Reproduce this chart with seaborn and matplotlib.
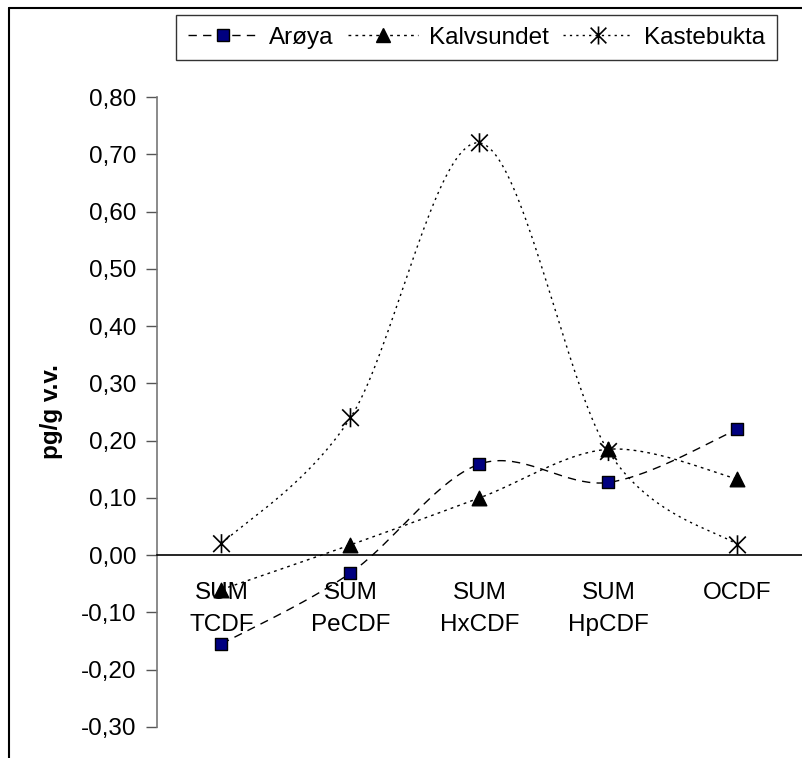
import numpy as np
import pandas as pd
import matplotlib
matplotlib.use("Agg")
import matplotlib.pyplot as plt
from matplotlib.lines import Line2D
from matplotlib.path import Path
import seaborn as sns

categories = ["SUM\nTCDF", "SUM\nPeCDF", "SUM\nHxCDF", "SUM\nHpCDF", "OCDF"]
aroya = [-0.155, -0.031, 0.159, 0.127, 0.220]
kalvsundet = [-0.060, 0.018, 0.100, 0.185, 0.133]
kastebukta = [0.020, 0.240, 0.720, 0.181, 0.018]
series_names = ["Arøya", "Kalvsundet", "Kastebukta"]
yticks = [-0.30, -0.20, -0.10, 0.00, 0.10, 0.20, 0.30, 0.40, 0.50, 0.60, 0.70, 0.80]

sns.set_style("white")
plt.rcParams["font.family"] = ["Liberation Sans", "DejaVu Sans"]
plt.rcParams["text.color"] = "black"
plt.rcParams["axes.labelcolor"] = "black"
plt.rcParams["xtick.color"] = "black"
plt.rcParams["ytick.color"] = "black"
plt.rcParams["xtick.labelcolor"] = "black"
plt.rcParams["ytick.labelcolor"] = "black"
FS = 17.5


def smooth(vals, n=40):
    p = np.array(list(zip(range(len(vals)), vals)), dtype=float)
    ext = np.vstack([p[0], p, p[-1]])
    out = []
    for i in range(len(p) - 1):
        p0, p1, p2, p3 = ext[i], ext[i + 1], ext[i + 2], ext[i + 3]
        c1 = p1 + (p2 - p0) / 6.0
        c2 = p2 - (p3 - p1) / 6.0
        t = np.linspace(0, 1, n)[:, None]
        seg = ((1 - t) ** 3) * p1 + 3 * ((1 - t) ** 2) * t * c1 + 3 * (1 - t) * t ** 2 * c2 + t ** 3 * p2
        out.append(seg if i == 0 else seg[1:])
    s = np.vstack(out)
    return s[:, 0], s[:, 1]


star = Path([(-1, -1), (1, 1), (-1, 1), (1, -1), (0, -1.15), (0, 1.15)],
            [Path.MOVETO, Path.LINETO, Path.MOVETO, Path.LINETO, Path.MOVETO, Path.LINETO])

fig = plt.figure(figsize=(8.03, 7.58), dpi=100)
ax = fig.add_axes([157 / 803, 1 - 727 / 758, (802 - 157) / 803, (727 - 97) / 758])

styles = [
    dict(vals=aroya, ls=(0, (6, 4.5)), marker="s", mfc="#000080", ms=8.5, s=72),
    dict(vals=kalvsundet, ls=(0, (2, 3)), marker="^", mfc="black", ms=10, s=110),
    dict(vals=kastebukta, ls=(0, (1.6, 3)), marker=star, mfc="none", ms=13, s=190),
]
xpos = np.arange(len(categories))
handles = []
for name, st in zip(series_names, styles):
    sx, sy = smooth(st["vals"])
    sns.lineplot(x=sx, y=sy, ax=ax, color="black", lw=1.0, linestyle=st["ls"], sort=False, estimator=None)
    if st["marker"] is star:
        sns.scatterplot(x=xpos, y=st["vals"], ax=ax, marker=star, s=st["s"], facecolors="none",
                        edgecolors="black", linewidths=1.2, zorder=5)
        h = Line2D([], [], color="black", lw=1.0, linestyle=st["ls"], marker=star, ms=st["ms"],
                   mfc="none", mec="black", mew=1.2)
    else:
        sns.scatterplot(x=xpos, y=st["vals"], ax=ax, marker=st["marker"], s=st["s"], color=st["mfc"],
                        edgecolor="black", linewidth=1.0, zorder=5)
        h = Line2D([], [], color="black", lw=1.0, linestyle=st["ls"], marker=st["marker"], ms=st["ms"],
                   mfc=st["mfc"], mec="black", mew=1.0)
    handles.append(h)

ax.set_xlim(-0.5, 4.5)
ax.set_ylim(-0.30, 0.80)
ax.tick_params(axis="x", which="major", length=0, pad=19, labelsize=FS, labelcolor="black")
ax.tick_params(axis="x", which="minor", length=7, width=1.2, color="black", direction="out")
ax.tick_params(axis="y", length=8, width=1.0, color="#555555", direction="out", pad=7, left=True,
               labelsize=FS, labelcolor="black")
ax.set_yticks(yticks)
ax.set_yticklabels([f"{v:.2f}".replace(".", ",") for v in yticks], fontsize=FS)
ax.set_xticks(xpos)
ax.set_xticklabels(categories, fontsize=FS)
ax.set_xticks(np.arange(-0.5, 5.0, 1.0), minor=True)
for sp in ["top", "right"]:
    ax.spines[sp].set_visible(False)
ax.spines["bottom"].set_position(("data", 0))
ax.spines["bottom"].set_color("black")
ax.spines["bottom"].set_linewidth(1.2)
ax.spines["left"].set_color("#777777")
ax.spines["left"].set_linewidth(1.2)
ax.set_xlabel("")
ax.set_ylabel("pg/g v.v.", fontsize=FS, fontweight="bold", color="black")
ax.yaxis.set_label_coords(-105 / 645, 0.5)
ax.yaxis.label.set_va("center")

leg = fig.legend(handles, series_names, loc="upper left", bbox_to_anchor=(176 / 803, 1 - 15 / 758),
                 ncol=3, fontsize=FS, frameon=True, fancybox=False, edgecolor="black",
                 handlelength=2.88, handletextpad=0.45, columnspacing=0.6, borderpad=0.48,
                 borderaxespad=0, labelcolor="black")
leg.get_frame().set_linewidth(1.0)

fig.add_artist(Line2D([9 / 803, 9 / 803], [0, 1 - 8 / 758], transform=fig.transFigure, color="black", lw=1.5))
fig.add_artist(Line2D([9 / 803, 1], [1 - 8 / 758, 1 - 8 / 758], transform=fig.transFigure, color="black", lw=1.5))

fig.canvas.draw()
for lbl in ax.get_xticklabels(which="major"):
    lbl.set_linespacing(1.6)

fig.savefig("out.png", dpi=100)
